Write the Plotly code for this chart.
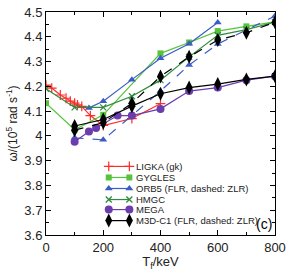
import plotly.graph_objects as go

# ---------------- data ----------------
ligka_T = [0, 20, 50, 70, 85, 100, 110, 125, 155, 200, 300, 400]
ligka_w = [4.205, 4.193, 4.165, 4.152, 4.14, 4.132, 4.125, 4.119, 4.082, 4.042, 4.07, 4.13]

gygles_T = [0, 100, 200, 400, 500, 600, 700, 800]
gygles_w = [4.132, 4.025, 4.085, 4.333, 4.377, 4.423, 4.442, 4.46]

orb5_T = [150, 200, 300, 400, 500, 600]
orb5_w = [4.113, 4.14, 4.227, 4.313, 4.372, 4.458]

orb5z_T = [100, 200, 400, 500, 600, 800]
orb5z_w = [3.992, 3.984, 4.181, 4.286, 4.371, 4.484]

hmgc_T = [0, 100, 200, 300, 400, 500, 600, 700, 800]
hmgc_w = [4.19, 4.115, 4.115, 4.16, 4.225, 4.319, 4.406, 4.429, 4.459]

mega_T = [100, 150, 175, 250, 300, 400, 500, 600, 700, 800]
mega_w = [3.976, 4.018, 4.032, 4.082, 4.082, 4.109, 4.181, 4.195, 4.225, 4.241]

m3d_T = [100, 200, 300, 400, 500, 600, 700, 800]
m3d_w = [4.04, 4.066, 4.12, 4.17, 4.195, 4.209, 4.228, 4.241]

m3dz_T = [100, 200, 300, 400, 500, 600, 700, 800]
m3dz_w = [4.023, 4.053, 4.132, 4.24, 4.319, 4.387, 4.416, 4.459]

legend_names = ["LIGKA (gk)", "GYGLES", "ORB5 (FLR, dashed: ZLR)", "HMGC", "MEGA",
                "M3D-C1 (FLR, dashed: ZLR)"]

x_ticks = [0, 200, 400, 600, 800]
y_ticks = [3.6, 3.7, 3.8, 3.9, 4.0, 4.1, 4.2, 4.3, 4.4, 4.5]
y_tick_text = ["3.6", "3.7", "3.8", "3.9", "4", "4.1", "4.2", "4.3", "4.4", "4.5"]

# ---------------- styles ----------------
RED = "#ff2a2a"
LGREEN = "#55c43a"
BLUE = "#3b5cc6"
DGREEN = "#2e8c3c"
PURPLE = "#6a3cae"
BLACK = "#000000"

styles = [
    dict(color=RED, symbol="cross-thin", size=7, mlw=1.2),
    dict(color=LGREEN, symbol="square", size=6, mlw=0),
    dict(color=BLUE, symbol="triangle-up", size=7, mlw=0),
    dict(color=DGREEN, symbol="x-thin", size=6, mlw=1.3),
    dict(color=PURPLE, symbol="circle", size=8, mlw=0),
    dict(color=BLACK, symbol="diamond-tall", size=10, mlw=0),
]

def marker(st):
    return dict(symbol=st["symbol"], size=st["size"], color=st["color"],
                line=dict(width=st["mlw"], color=st["color"]))

fig = go.Figure()

series = [
    (ligka_T, ligka_w, 0, "solid"),
    (gygles_T, gygles_w, 1, "solid"),
    (orb5z_T, orb5z_w, 2, "dash"),
    (orb5_T, orb5_w, 2, "solid"),
    (hmgc_T, hmgc_w, 3, "solid"),
    (mega_T, mega_w, 4, "solid"),
    (m3dz_T, m3dz_w, 5, "dash"),
    (m3d_T, m3d_w, 5, "solid"),
]
for xs, ys, si, dash in series:
    st = styles[si]
    fig.add_trace(go.Scatter(x=xs, y=ys, mode="lines+markers",
                             line=dict(color=st["color"], width=1.2, dash=dash),
                             marker=marker(st), showlegend=False, hoverinfo="skip"))

# ---------------- custom legend (paper coordinates via overlay axes) ----------------
leg_x0, leg_x1, leg_tx = 0.274, 0.364, 0.385
leg_rows = [0.3075, 0.258, 0.2086, 0.159, 0.114, 0.0645]
for name, st, yr in zip(legend_names, styles, leg_rows):
    fig.add_trace(go.Scatter(x=[leg_x0, leg_x1], y=[yr, yr], mode="lines+markers",
                             xaxis="x2", yaxis="y2",
                             line=dict(color=st["color"], width=1.2),
                             marker=marker(st), showlegend=False, hoverinfo="skip"))
    fig.add_annotation(x=leg_tx, y=yr, xref="x2", yref="y2", text=name,
                       showarrow=False, xanchor="left", yanchor="middle",
                       font=dict(size=9.5, color="#222222"))

fig.add_annotation(x=0.995, y=0.05, xref="x2", yref="y2", text="(c)", showarrow=False,
                   xanchor="right", yanchor="middle", font=dict(size=14, color="black"))

axis_common = dict(showgrid=False, zeroline=False, showline=True, linecolor="black",
                   linewidth=1, mirror="allticks", ticks="inside", ticklen=5,
                   tickcolor="black", tickwidth=1, ticklabeloverflow="allow",
                   tickfont=dict(size=13, color="#222222"))

fig.update_layout(
    width=291, height=271,
    margin=dict(l=46, r=11.5, t=5, b=33.5),
    paper_bgcolor="white", plot_bgcolor="white",
    font=dict(family="Liberation Sans, Arial, sans-serif", color="#222222"),
    showlegend=False,
    xaxis=dict(range=[0, 800], tickvals=x_ticks,
               minor=dict(dtick=100, ticks="inside", ticklen=3, tickcolor="black"),
               title=dict(text="T<sub>f</sub>/keV", font=dict(size=13), standoff=2),
               **axis_common),
    yaxis=dict(range=[3.6, 4.5], tickvals=y_ticks, ticktext=y_tick_text,
               minor=dict(dtick=0.05, ticks="inside", ticklen=3, tickcolor="black"),
               title=dict(text="ω/(10<sup>5</sup> rad s<sup>-1</sup>)", font=dict(size=12),
                          standoff=4),
               **axis_common),
    xaxis2=dict(range=[0, 1], overlaying="x", visible=False, fixedrange=True),
    yaxis2=dict(range=[0, 1], overlaying="y", visible=False, fixedrange=True),
)

fig.write_html("out.html", config={"displayModeBar": False},
               post_script="document.body.style.margin='0';")
